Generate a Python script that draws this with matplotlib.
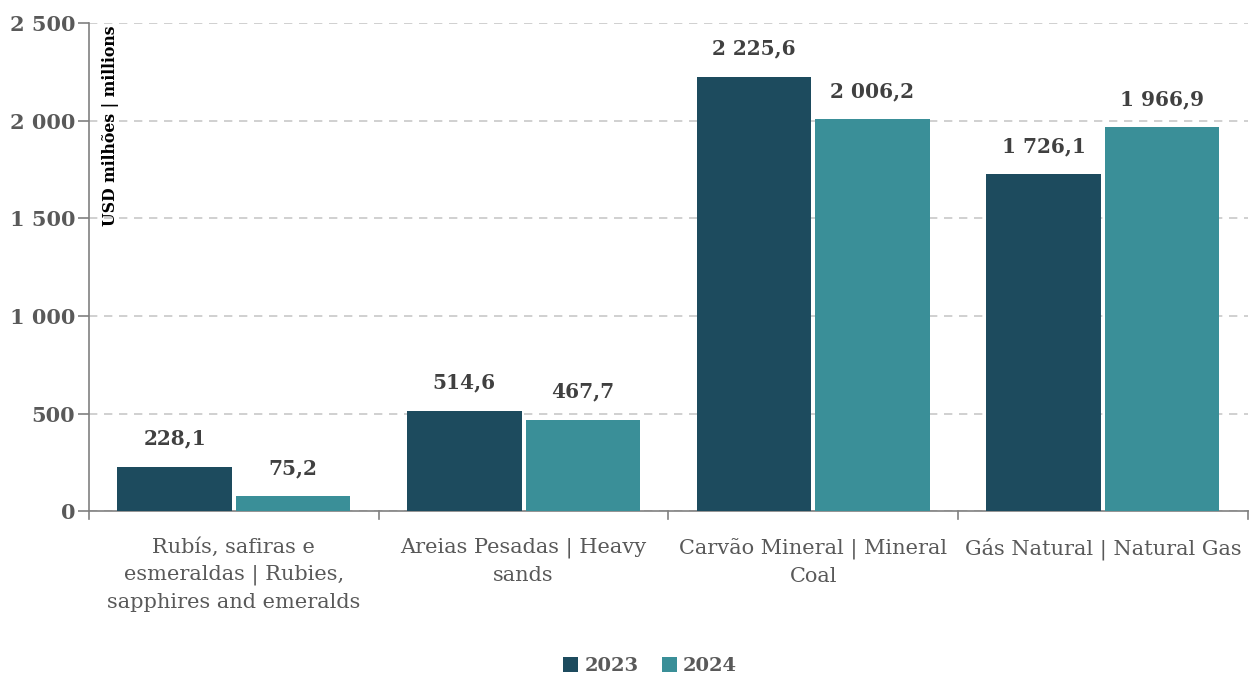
import matplotlib.pyplot as plt
import numpy as np

categories = ["Rubís, safiras e\nesmeraldas | Rubies,\nsapphires and emeralds",
              "Areias Pesadas | Heavy\nsands",
              "Carvão Mineral | Mineral\nCoal",
              "Gás Natural | Natural Gas"]
v2023 = [228.1, 514.6, 2225.6, 1726.1]
v2024 = [75.2, 467.7, 2006.2, 1966.9]
years = ["2023", "2024"]
yticks = [0, 500, 1000, 1500, 2000, 2500]


def fmt(v, dec=True):
    s = f"{v:,.1f}" if dec else f"{v:,.0f}"
    return s.replace(",", " ").replace(".", ",")


plt.rcParams['font.family'] = ['DejaVu Serif']

fig = plt.figure(figsize=(12.5, 6.77), dpi=100)
ax = fig.add_axes([0.0712, 0.245, 0.927, 0.721])

x = np.arange(len(categories))
w = 0.395
gap = 0.007
c1 = "#1d4b5e"
c2 = "#3a8f98"
b1 = ax.bar(x - w / 2 - gap, v2023, w, color=c1, label=years[0], zorder=3)
b2 = ax.bar(x + w / 2 + gap, v2024, w, color=c2, label=years[1], zorder=3)

for bars, vals in ((b1, v2023), (b2, v2024)):
    for b, v in zip(bars, vals):
        ax.text(b.get_x() + b.get_width() / 2, v + 92, fmt(v), ha='center', va='bottom',
                fontsize=14.5, fontweight='bold', color='#404040')

ax.set_xlim(-0.5, len(categories) - 0.5)
ax.set_ylim(0, 2500)
ax.set_yticks(yticks)
ax.set_yticklabels([fmt(t, False) for t in yticks], fontsize=15, fontweight='bold', color='#595959')
ax.yaxis.grid(True, linestyle=(0, (5, 4)), color='#c8c8c8', linewidth=1.2, zorder=0)
ax.tick_params(axis='y', length=8, color='#808080', width=1.2, pad=2)

ax.set_xticks(x)
ax.set_xticklabels(categories, fontsize=15, color='#595959', linespacing=1.5)
ax.tick_params(axis='x', length=0, pad=19)
# category separator ticks
for s in np.arange(-0.5, len(categories), 1.0):
    ax.plot([s, s], [0, -0.017], transform=ax.get_xaxis_transform(), color='#808080',
            lw=1.2, clip_on=False)

for sp in ['top', 'right']:
    ax.spines[sp].set_visible(False)
ax.spines['left'].set_color('#808080')
ax.spines['bottom'].set_color('#808080')
ax.spines['left'].set_linewidth(1.2)
ax.spines['bottom'].set_linewidth(1.2)

ax.text(0.011, 0.995, "USD milhões | millions", transform=ax.transAxes, rotation=90,
        ha='left', va='top', fontsize=11.3, fontweight='bold', color='black')

leg = fig.legend(handles=[b1, b2], labels=years, loc='center', bbox_to_anchor=(0.52, 0.016),
                 ncol=2, frameon=False, fontsize=14, handlelength=0.8, handleheight=0.8,
                 handletextpad=0.3, columnspacing=1.2)
for t in leg.get_texts():
    t.set_fontweight('bold')
    t.set_color('#595959')

fig.savefig("out.png", dpi=100)
